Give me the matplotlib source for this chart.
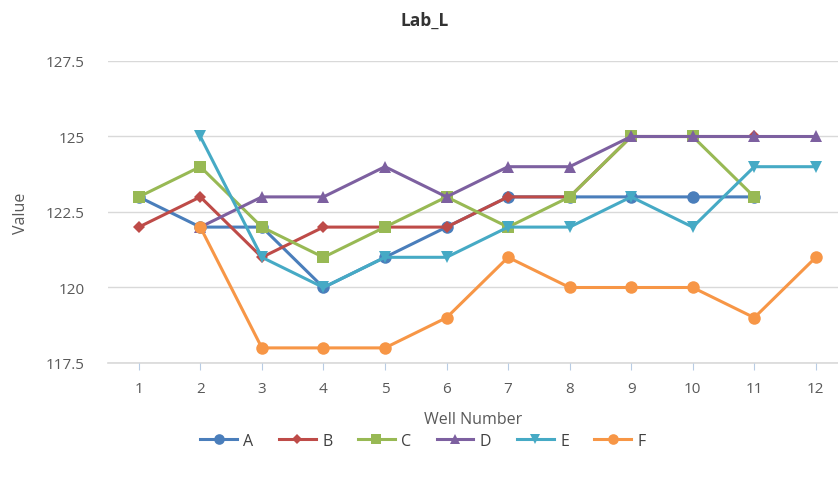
import matplotlib
matplotlib.use("Agg")
import matplotlib.pyplot as plt
import numpy as np

wells = list(range(1, 13))
A = [123, 122, 122, 120, 121, 122, 123, 123, 123, 123, 123, None]
B = [122, 123, 121, 122, 122, 122, 123, 123, 125, 125, 125, None]
C = [123, 124, 122, 121, 122, 123, 122, 123, 125, 125, 123, None]
D = [None, 122, 123, 123, 124, 123, 124, 124, 125, 125, 125, 125]
E = [None, 125, 121, 120, 121, 121, 122, 122, 123, 122, 124, 124]
F = [None, 122, 118, 118, 118, 119, 121, 120, 120, 120, 119, 121]
series_names = ["A", "B", "C", "D", "E", "F"]
yticks = [117.5, 120, 122.5, 125, 127.5]
ytick_labels = ["117.5", "120", "122.5", "125", "127.5"]

colors = ["#4A7EBB", "#BE4B48", "#98B954", "#7D60A0", "#46AAC5", "#F79646"]
markers = ["o", "D", "s", "^", "v", "o"]
msizes = [9, 6.5, 8.5, 9, 9, 9]

plt.rcParams['font.family'] = ['Open Sans', 'DejaVu Sans']
fig = plt.figure(figsize=(8.38, 4.81), dpi=100)
ax = fig.add_axes([108/838, 1-364/481, 1-108/838, (364-62)/481])

for name, vals, c, m, ms in zip(series_names, [A, B, C, D, E, F], colors, markers, msizes):
    y = np.array([np.nan if v is None else v for v in vals], dtype=float)
    ax.plot(wells, y, color=c, marker=m, markersize=ms, linewidth=2.2, label=name,
            markeredgewidth=0)

ax.set_xlim(0.5, 12.36)
ax.set_ylim(117.5, 127.5)
ax.set_yticks(yticks)
ax.set_yticklabels(ytick_labels)
ax.set_xticks(wells)
ax.grid(axis='y', color='#d9d9d9', linewidth=1)
ax.axhline(117.5, color='#d9d9d9', linewidth=1.2, clip_on=False, zorder=0.5)
ax.set_axisbelow(True)
for s in ax.spines.values():
    s.set_visible(False)
ax.tick_params(axis='y', length=0, pad=17, labelsize=11, labelcolor='#595959')
ax.tick_params(axis='x', length=5, color='#b8cce4', labelsize=11, labelcolor='#595959', pad=8)

ax.set_xlabel("Well Number", fontsize=11.5, color='#595959', labelpad=11)
ax.set_ylabel("Value", fontsize=11.5, color='#595959', labelpad=12)
fig.text(425/838, 1-21/481, "Lab_L", ha='center', va='center', fontsize=12.5, fontweight='bold', color='#333333')

leg = fig.legend(loc='center', bbox_to_anchor=(423/838, 1-442/481), ncol=6, frameon=False,
                 fontsize=11.5, handlelength=2.3, columnspacing=1.6, handletextpad=0.4,
                 markerscale=0.85)
for t in leg.get_texts():
    t.set_color('#404040')

fig.savefig("out.png", dpi=100)
